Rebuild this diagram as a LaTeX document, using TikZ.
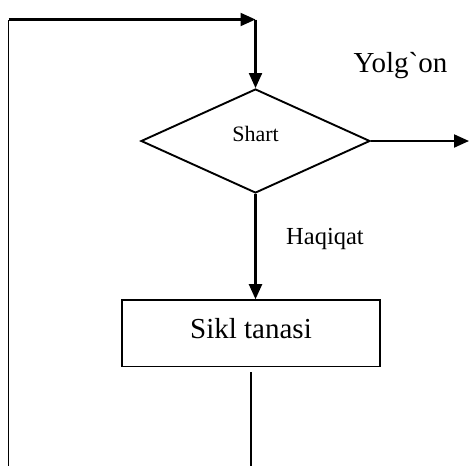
\documentclass[tikz,border=0pt]{standalone}
\usepackage{fontspec}
\setmainfont{Liberation Serif}
\newfontfamily\rawserif{Liberation Serif}[Ligatures=TeXOff]
\usetikzlibrary{shapes.geometric,arrows.meta}
\begin{document}
\begin{tikzpicture}[x=1pt,y=-1pt,
  conn/.style={line width=2.1pt,-{Triangle[length=15pt,width=13pt]}},
  plainline/.style={line width=1.7pt},
  lbl/.style={inner sep=0pt,anchor=base}]
\useasboundingbox (0,0) rectangle (469,466);
\node[draw,diamond,line width=1.9pt,minimum width=229pt,minimum height=104pt,inner sep=0pt,
      text height=16pt,text depth=16pt,font=\fontsize{22}{22}\selectfont] (cond) at (255.5,141) {Shart};
\node[draw,rectangle,line width=1.5pt,minimum width=258pt,minimum height=66.7pt,inner sep=0pt,
      text height=20pt,text depth=10pt,font=\fontsize{29}{29}\selectfont] (body) at (251,333.3) {Sikl tanasi};
\node[lbl,font=\fontsize{29}{29}\rawserif] (false) at (400.5,72.7) {Yolg`on};
\node[lbl,font=\fontsize{24.5}{24.5}\selectfont] (true) at (325,244.3) {Haqiqat};
\coordinate (bl) at (8.5,466);
\coordinate (tl) at (8.5,19.5);
\coordinate (tr) at (cond.north |- tl);
\coordinate (rt) at (469,141);
\coordinate (bb) at (251,466);
\draw[plainline] (bl) -- (tl);
\draw[conn] (tl) -- (tr);
\draw[conn] (tr) -- (cond.north);
\draw[conn] (cond.east) -- (rt);
\draw[conn] (cond.south) -- (cond.south |- body.north);
\draw[plainline] ([yshift=-5pt]body.south) -- (bb);
\end{tikzpicture}
\end{document}
